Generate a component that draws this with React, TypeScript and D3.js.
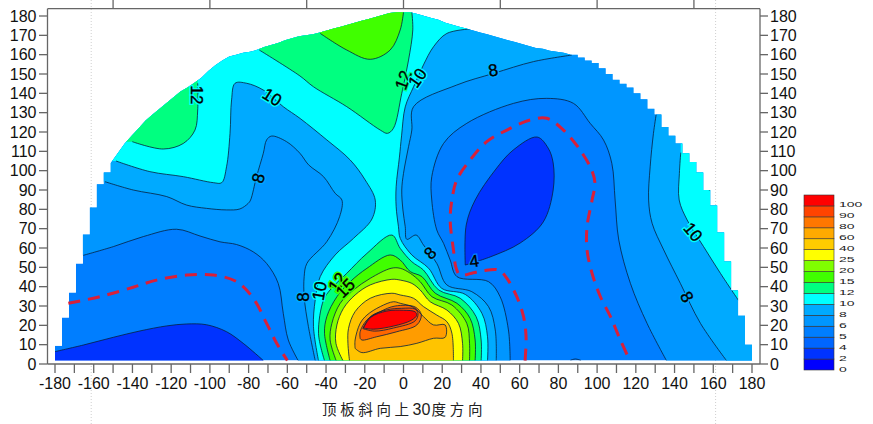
import React from "react";
import * as d3 from "d3";

type Pt = [number, number];

const xTicks = d3.range(-180, 181, 10);
const xTickLabels = d3.range(-180, 181, 20);
const yTicks = d3.range(0, 181, 10);
const topTicks = [-150, -100, -50, 0, 50, 100, 150];
const titleStart = "顶板斜向上";
const titleMiddle = "30";
const titleEnd = "度方向";
const legendLabels = ["0", "2", "4", "5", "6", "8", "10", "12", "15", "20", "25", "40", "60", "80", "90", "100"];
const legendColors = ["#0000ff", "#0033ff", "#0066ff", "#007eff", "#0096ff", "#00aaff", "#00ffff", "#00ff80", "#40ff00", "#80ff00", "#ffff00", "#ffcc00", "#ffaa00", "#ff7700", "#ff4400", "#ff0000"];
const moundOrange = ["#ffc400", "#ff9c00", "#ff6600", "#ff5000"];

const boundaryTops = [
  9.5, 24, 37, 52, 67, 81, 93, 99, 104, 109, 114, 118, 122, 126, 129, 132, 135, 138, 141, 143, 145.5, 148, 151.5, 154.5, 157,
  159, 160, 161, 161.5, 162.5, 164, 165, 166, 167.5, 168.5, 169.5, 170, 170.5, 171.5, 172.5, 173.5, 174.5, 175.5, 176.5, 177.5, 178.5, 179.5, 180.5, 181.5, 182,
  182, 182, 181, 180, 179, 178, 176.5, 175.5, 174.5, 173.5, 172.5, 171.5, 170.5, 169.5, 168.5, 167.5, 166.5, 165.5, 164.5, 163.5,
  163, 162, 161.5, 161, 160, 158.5, 157, 155.7, 153, 150, 147, 145, 143, 140, 137, 132, 129, 122.6, 118, 114, 109, 104.5, 99, 90, 82, 68, 53, 38, 25, 10, 10,
];
const boundaryColumns = boundaryTops.map((_, i) => -180 + i * 3.6);
const stairLeftEnd = 8;
const stairRightStart = 74;
const fieldFloor = 1.8;

const line4Left: Pt[] = [[-180, 6.4], [-165.4, 9.8], [-149.9, 13.8], [-136.1, 17.1], [-122.3, 19.7], [-112, 20.7], [-101.7, 20.3], [-91.4, 16.7], [-82.8, 10.7], [-72.4, 1.8]];
const line4Basin: Pt[] = [[31.9, 51.2], [32.4, 71.9], [37, 84.8], [47.4, 100.4], [56.7, 110.7], [69, 117.4], [74.7, 111.7], [77.3, 104], [77.3, 90], [72.2, 73.5], [60.3, 62.6], [44.8, 55.4], [31.9, 51.2]];
const line4Bump: Pt[] = [[86.2, 1.9], [88.8, 2.6], [91.7, 1.8]];

const dash5Left: Pt[] = [[-173.1, 31.4], [-156.8, 34.8], [-139.6, 39.7], [-127.5, 43.4], [-112, 46], [-98.2, 46], [-86.2, 42.6], [-77.6, 34], [-70.7, 21], [-65.5, 10.7], [-60, 1.8]];
const dash5Right: Pt[] = [[62.8, 1.8], [63.3, 14.1], [62, 24.5], [58.5, 34.8], [53.4, 44.3], [49.1, 48.6], [41.3, 48.3], [36.1, 47.2], [29.3, 46], [27.2, 49.5], [25.8, 59], [24.1, 74.5], [25, 84.8], [27.5, 95.2], [34.4, 105.5], [43, 115], [53.4, 121], [65.4, 126.2], [74, 127.1], [82.6, 121], [91.2, 110.7], [97.2, 100.3], [98.9, 93.4], [97.4, 84.8], [94.8, 71], [94.8, 59], [97.4, 46.9], [101.7, 34.8], [106.9, 24.5], [112, 12.4], [116.9, 1.8]];

const line6Left: Pt[] = [[-165.4, 56.2], [-149.9, 60.7], [-134.4, 65.9], [-117.2, 69.7], [-105.1, 66.2], [-94.8, 63.2], [-86.2, 61.8], [-77.6, 58], [-70.7, 52], [-64.7, 41.7], [-62.1, 26.2], [-59.5, 12.4], [-54.4, 1.8]];
const line6Right: Pt[] = [[55.1, 1.8], [54.2, 17.6], [49.9, 34.8], [43.9, 42.6], [27.6, 45.2], [24.1, 53.8], [20.7, 62.4], [17.2, 69.3], [14.6, 84.8], [14.6, 96.9], [20.7, 114.1], [32.7, 124.5], [56.8, 134.8], [74, 137.4], [87.8, 134.8], [96.4, 124.5], [103.3, 115.9], [107.6, 103.8], [109.3, 84.8], [111.2, 64.1], [117.2, 41.7], [125.8, 21], [135.8, 1.8]];

const line8Left: Pt[] = [[-154.2, 94.3], [-139.6, 90], [-122.3, 86.6], [-112, 82.2], [-101.7, 80.5], [-91.4, 79.7], [-84.5, 80.2], [-80.2, 83.1], [-79, 84.8], [-75.9, 96.9], [-72.4, 109], [-70.7, 115.9], [-68.1, 117.9], [-60.4, 115], [-53.5, 109], [-49, 103], [-41.3, 96.9], [-35.3, 88.3], [-31.8, 84.8], [-33, 76.2], [-39.6, 63.3], [-49.9, 52], [-51.3, 45.2], [-51.3, 34.8], [-49.1, 19.3], [-45.6, 1.8]];
const line8Right: Pt[] = [[47.9, 1.8], [47.4, 17.6], [43.9, 29.7], [35.3, 37.4], [22.4, 40.9], [17.2, 52], [10.3, 61.6], [6.5, 66.7], [1.7, 64.5], [0.9, 71], [-0.3, 79.7], [-0.9, 90], [0, 98.6], [2.6, 112.4], [4.3, 121], [5.2, 133.1], [27.5, 144.3], [46.5, 150.3], [67.1, 156.4], [86.9, 159.8]];
const line8Far: Pt[] = [[130.5, 129], [129.1, 119.3], [127.4, 102], [126.6, 84.8], [128.4, 72.8], [134.4, 59], [143, 41.7], [153.4, 21], [166.8, 1.8]];

const line10Left: Pt[] = [[-148.5, 105], [-131, 99.5], [-113.7, 96.9], [-98.2, 93.8], [-93.9, 93.8], [-91.4, 102], [-89.6, 119.3], [-88.8, 136.6], [-87, 145.2], [-81, 145.2], [-72.4, 141.7], [-62.1, 133.1], [-53.4, 127], [-39.6, 115.9], [-27.5, 105.5], [-19.8, 95.2], [-14.6, 84.8], [-16.3, 75], [-25.8, 65], [-35.3, 56.4], [-43, 45.2], [-45.6, 33.1], [-46.5, 19.3], [-43.9, 1.8]];
const line10Right: Pt[] = [[43.4, 1.8], [43.4, 14.1], [40.5, 26.2], [31.9, 36], [19.8, 39.1], [13, 49.5], [4.3, 56.4], [-1.7, 65], [-2.6, 71], [-3.8, 81.4], [-3.8, 91.7], [-2.1, 107], [-1, 118], [0.9, 133], [5.2, 143.4], [10.3, 154.7], [15.5, 164.1], [22.4, 171], [34.4, 173.3]];
const line10Far: Pt[] = [[143.2, 109.3], [142.5, 98.6], [142.4, 84.8], [146.5, 74.5], [155, 60.7], [163.7, 46.9], [173.1, 32.8]];

const line12Blob: Pt[] = [[-140.1, 115], [-124.1, 111.2], [-113.7, 114.1], [-107.7, 121], [-106.3, 131.4], [-106.3, 145.2]];
const line12Top: Pt[] = [[-74.5, 162.4], [-53.5, 149], [-46.5, 143.4], [-29.3, 133.1], [-12, 121], [-8.3, 119.3], [-5.2, 121.9], [-0.9, 140], [2.6, 157.2], [4.8, 172.8], [4.3, 182]];
const line12Mound: Pt[] = [[-40.8, 1.8], [-43.9, 15.9], [-41.3, 33.1], [-37.9, 38.3], [-29.3, 46.9], [-18.9, 57.2], [-6, 66.7], [-1.7, 59.8], [4.3, 52.9], [10.3, 48.6], [18.1, 38.3], [29.3, 34], [37.5, 24.5], [40.1, 12.4], [40.1, 1.8]];
const line12Sliver: Pt[] = [[156.3, 93.4], [158, 89.7]];

const line15Top: Pt[] = [[-43, 171], [-29.3, 162.4], [-17.2, 157.6], [-6.9, 162.4], [-1.7, 172.8], [0, 182]];
const line15Mound: Pt[] = [[-37.9, 1.8], [-40.8, 15.9], [-39.6, 24.5], [-34.4, 34.8], [-27.5, 42.6], [-18.9, 49.5], [-6.9, 56.4], [-1.7, 53.8], [3.5, 47.8], [9.5, 45.2], [16.4, 36.6], [27.6, 31.4], [34.4, 23.6], [37, 12.4], [37, 1.8]];
const line20Mound: Pt[] = [[-34.8, 1.8], [-37.9, 12.4], [-37, 21], [-32.7, 31.4], [-25.8, 38.3], [-17.2, 44.3], [-6.4, 49.5], [-1.7, 49.5], [3.5, 46.9], [8.6, 42.6], [14.7, 34.8], [25, 30.5], [32.7, 21], [34.1, 10.7], [34.1, 1.8]];
const line25Mound: Pt[] = [[-31.3, 1.8], [-34.9, 10.7], [-34.4, 20.2], [-31, 28.8], [-25, 35.7], [-17.2, 40.9], [-6, 43.8], [-1.7, 43.4], [4.3, 41.7], [8.6, 38.3], [13.8, 32.2], [22.4, 27.9], [28.4, 21], [30.5, 10.7], [30.5, 1.8]];
const line40Mound: Pt[] = [[-27.9, 1.8], [-28.7, 10.7], [-28.4, 18.4], [-25, 27.1], [-17.2, 34], [-6, 36.6], [-1.7, 35.7], [5.2, 34], [10.3, 29.7], [17.2, 25.3], [22.4, 21.9], [25, 15.9], [25.8, 1.8]];
const line60Mound: Pt[] = [[-25, 8.1], [-25, 12.4], [-22.4, 21], [-18.9, 25.3], [-12, 29.7], [-5.2, 32.2], [-1.7, 31.4], [5.2, 29.3], [10.3, 24.5], [15.5, 20.2], [21.5, 20.2], [21.5, 13.8], [15.5, 13.3], [6.9, 10.7], [-1.7, 9], [-12, 8.1], [-21.5, 5.9], [-25, 8.1]];
const line80Mound: Pt[] = [[-22.4, 13.3], [-22.4, 16.7], [-18.9, 22.8], [-12, 27.1], [-4.3, 30], [6, 29.5], [9.2, 25.5], [6.9, 20.2], [-3.4, 16.7], [-13.8, 14.1], [-21.5, 12.4], [-22.4, 13.3]];
const line90Mound: Pt[] = [[-21, 18.3], [-17, 24.6], [-8.6, 28], [-1, 28.8], [6, 28.4], [7.5, 26], [6, 22.3], [-5.2, 18.6], [-15, 17], [-21, 18.3]];
const line100Mound: Pt[] = [[-20.7, 18.6], [-16.8, 24.2], [-8.6, 27.4], [0, 27.8], [6, 27], [6.8, 25.2], [4, 22.6], [-5.2, 19.6], [-15.5, 18], [-20.7, 18.6]];

const labelText = ["12", "10", "8", "12", "10", "8", "8", "10", "12", "15", "8", "4", "10", "8"];
const labelX = [-106.6, -67.8, -75.1, -0.2, 7.1, 46.3, -51.8, -43.5, -34.2, -30.1, 13.8, 36.5, 149.6, 146.5];
const labelY = [139.2, 138.1, 96.2, 146.9, 148, 152.1, 34.7, 37.8, 42.4, 39.3, 57.4, 53.3, 68.3, 34.7];
const labelAngle = [90, 32, -75, -70, -55, -10, -90, -80, -55, -45, -45, -8, 50, 60];
const labelBand = [6, 6, 5, 7, 6, 5, 5, 6, 8, 8, 5, 3, 6, 5];

const faintGuides = [-161.3, 161.2];

const x = d3.scaleLinear().domain([-180, 180]).range([55, 752]);
const y = d3.scaleLinear().domain([0, 180]).range([364, 16]);
const legendY = d3.scaleLinear().domain([0, 16]).range([370, 195]);

const lineGen = d3
  .line<Pt>()
  .x((d) => x(d[0]))
  .y((d) => y(d[1]))
  .curve(d3.curveCatmullRom.alpha(0.5));

const stairPts: Pt[] = [];
boundaryTops.forEach((top, i) => {
  stairPts.push([boundaryColumns[i], top]);
  const stepped = i < stairLeftEnd || i >= stairRightStart;
  if (stepped && i < boundaryTops.length - 1) stairPts.push([boundaryColumns[i + 1], top]);
});
const stairShape = d3
  .area<Pt>()
  .x((d) => x(d[0]))
  .y0(y(fieldFloor))
  .y1((d) => y(d[1]))(stairPts) as string;

const px = (p: Pt) => `${x(p[0])},${y(p[1])}`;
const out = (pts: Pt[]) => pts.map((c) => "L" + px(c)).join("");
function region(segments: Pt[][], closure: Pt[] = []): string {
  const body = segments
    .map((s, i) => {
      const d = lineGen(s) as string;
      return i === 0 ? d : "L" + d.slice(1);
    })
    .join("");
  return body + out(closure) + "Z";
}

const FONT = "'Liberation Sans', Arial, sans-serif";
const lineColor = "#06213f";

const filledBands: { color: string; d: string }[] = [
  { color: legendColors[3], d: stairShape },
  { color: legendColors[1], d: region([line4Left], [[-72.4, -6], [-180, -6]]) },
  { color: legendColors[1], d: region([line4Basin]) },
  {
    color: legendColors[4],
    d:
      (lineGen(line6Left) as string) +
      out([[-54.4, -6], [55.1, -6]]) +
      "L" + (lineGen(line6Right) as string).slice(1) +
      out([[135.8, -6], [210, -6], [210, 210], [-210, 210], [-210, 56]]) +
      "Z",
  },
  { color: legendColors[5], d: region([line8Left, line8Right], [[86.9, 210], [-210, 210], [-210, 94]]) },
  { color: legendColors[5], d: region([line8Far], [[166.8, -6], [210, -6], [210, 210], [130.5, 210]]) },
  { color: legendColors[6], d: region([line10Left, line10Right], [[34.4, 210], [-210, 210], [-210, 105]]) },
  { color: legendColors[6], d: region([line10Far], [[210, 30], [210, 210], [143.2, 210]]) },
  { color: legendColors[7], d: region([line12Blob], [[-106.3, 210], [-210, 210], [-210, 115]]) },
  { color: legendColors[7], d: region([line12Top], [[4.3, 210], [-74.5, 210]]) },
  { color: legendColors[7], d: region([line12Mound]) },
  { color: legendColors[8], d: region([line15Top], [[0, 210], [-43, 210]]) },
  { color: legendColors[8], d: region([line15Mound]) },
  { color: legendColors[9], d: region([line20Mound]) },
  { color: legendColors[10], d: region([line25Mound]) },
  { color: moundOrange[0], d: region([line40Mound]) },
  { color: moundOrange[1], d: region([line60Mound]) },
  { color: moundOrange[2], d: region([line80Mound]) },
  { color: moundOrange[3], d: region([line90Mound]) },
  { color: legendColors[15], d: region([line100Mound]) },
];

const contourLines: Pt[][] = [
  line4Left, line4Basin, line4Bump, line6Left, line6Right, line8Left, line8Right, line8Far,
  line10Left, line10Right, line10Far, line12Blob, line12Top, line12Mound, line12Sliver,
  line15Top, line15Mound, line20Mound, line25Mound, line40Mound, line60Mound, line80Mound, line90Mound, line100Mound,
];

export default function App() {
  return (
    <svg width={873} height={424} style={{ position: "absolute", left: 0, top: 0, background: "#fff" }}>
      <defs>
        <clipPath id="field">
          <path d={stairShape} />
        </clipPath>
      </defs>

      {faintGuides.map((g) => (
        <line key={g} x1={x(g)} x2={x(g)} y1={0} y2={424} stroke="#cfcfcf" strokeWidth={1} strokeDasharray="1 2" />
      ))}

      <g clipPath="url(#field)">
        {filledBands.map((b, i) => (
          <path key={i} d={b.d} fill={b.color} />
        ))}
        {contourLines.map((l, i) => (
          <path key={i} d={lineGen(l) as string} fill="none" stroke={lineColor} strokeWidth={0.8} strokeLinejoin="round" />
        ))}
      </g>

      {[dash5Left, dash5Right].map((l, i) => (
        <path key={i} d={lineGen(l) as string} fill="none" stroke="#d8203a" strokeWidth={3} strokeDasharray="12 8" />
      ))}

      {labelText.map((t, i) => (
        <g
          key={i}
          transform={`translate(${x(labelX[i])},${y(labelY[i])}) rotate(${labelAngle[i]})`}
          fontFamily={FONT}
          fontSize={17}
          textAnchor="middle"
        >
          <text dy={6} fill="none" stroke={legendColors[labelBand[i]]} strokeWidth={3}>
            {t}
          </text>
          <text dy={6} fill="#000" stroke="#000" strokeWidth={0.35}>
            {t}
          </text>
        </g>
      ))}

      <g stroke="#666" strokeWidth={1.3} fill="none">
        <line x1={47.5} x2={760} y1={8.7} y2={8.7} />
        <line x1={47.5} x2={47.5} y1={8.7} y2={364} />
        <line x1={760} x2={760} y1={8.7} y2={364} />
        <line x1={47.5} x2={760} y1={364} y2={364} />
        {topTicks.map((t) => (
          <line key={t} x1={x(t)} x2={x(t)} y1={0} y2={8.7} />
        ))}
        {xTicks.map((t) => (
          <line key={t} x1={x(t)} x2={x(t)} y1={364} y2={373} />
        ))}
        {yTicks.map((t) => (
          <g key={t}>
            <line x1={39} x2={47.5} y1={y(t)} y2={y(t)} />
            <line x1={760} x2={768} y1={y(t)} y2={y(t)} />
          </g>
        ))}
      </g>

      <g fontFamily={FONT} fontSize={16} fill="#111">
        {xTickLabels.map((t) => (
          <text key={t} x={x(t)} y={389} textAnchor="middle">
            {t}
          </text>
        ))}
        {yTicks.map((t) => (
          <g key={t}>
            <text x={36.5} y={y(t) + 5.8} textAnchor="end">
              {t}
            </text>
            <text x={770} y={y(t) + 5.8}>
              {t}
            </text>
          </g>
        ))}
      </g>

      <g fill="#222" fontFamily="'Noto Sans CJK SC', sans-serif" fontSize={14.5}>
        <text x={322} y={415} textLength={87} lengthAdjust="spacing">
          {titleStart}
        </text>
        <text x={412.5} y={415} fontFamily={FONT} fontSize={16}>
          {titleMiddle}
        </text>
        <text x={431.5} y={415} textLength={51} lengthAdjust="spacing">
          {titleEnd}
        </text>
      </g>

      {legendColors.map((c, i) => (
        <rect key={c} x={804} y={legendY(i + 1)} width={30} height={legendY(i) - legendY(i + 1)} fill={c} stroke="#333" strokeWidth={0.6} />
      ))}
      {legendLabels.map((t, i) => (
        <text
          key={t}
          transform={`translate(839,${legendY(i) + 1.5}) scale(2,1)`}
          fontFamily={FONT}
          fontSize={7}
          fill="#222"
        >
          {t}
        </text>
      ))}
    </svg>
  );
}
